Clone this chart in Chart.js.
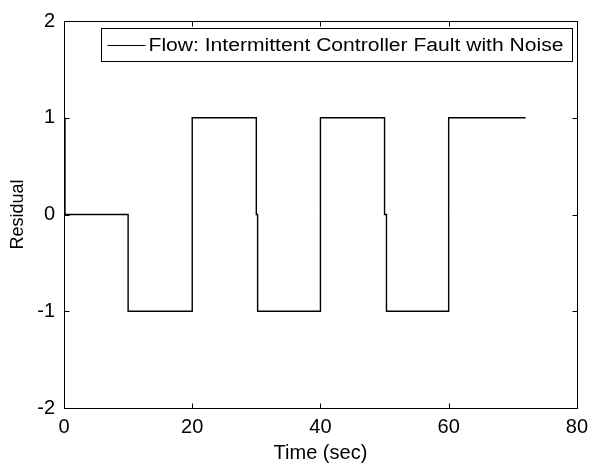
<!DOCTYPE html>
<html>
<head>
<meta charset="utf-8">
<script src="https://cdn.jsdelivr.net/npm/chart.js@4.4.1/dist/chart.umd.min.js"></script>
<style>
  html, body { margin: 0; padding: 0; background: #fff; }
  #wrap { width: 595px; height: 470px; }
</style>
</head>
<body>
<div id="wrap"><canvas id="c" width="595" height="470"></canvas></div>
<script>
// residual trace (step changes)
var time     = [0.15, 0.15, 10, 10, 20, 20, 30, 30, 30.2, 30.2, 40, 40, 50, 50, 50.3, 50.3, 60, 60, 72];
var residual = [1,    0,    0,  -1, -1, 1,  1,  0,  0,    -1,   -1, 1,  1,  0,  0,    -1,   -1, 1,  1];
var xTicks = [0, 20, 40, 60, 80];
var yTicks = [-2, -1, 0, 1, 2];
var seriesName = "Flow: Intermittent Controller Fault with Noise";

var FONT = "'Liberation Sans', Arial, Helvetica, sans-serif";

var points = [];
for (var i = 0; i < time.length; i++) {
  points.push({ x: time[i], y: residual[i] });
}

// frame, inward ticks and boxed legend, MATLAB style
var matlabAxes = {
  id: "matlabAxes",
  afterDatasetsDraw: function(chart) {
    var ctx = chart.ctx, a = chart.chartArea;
    var xs = chart.scales.x, ys = chart.scales.y;
    var L = Math.round(a.left) + 0.5, R = Math.round(a.right) + 0.5;
    var T = Math.round(a.top) + 0.5, B = Math.round(a.bottom) + 0.5;
    ctx.save();
    ctx.strokeStyle = "#000";
    ctx.lineWidth = 1;
    ctx.strokeRect(L, T, R - L, B - T);
    ctx.beginPath();
    xTicks.forEach(function(v) {
      var px = Math.round(xs.getPixelForValue(v)) + 0.5;
      ctx.moveTo(px, B); ctx.lineTo(px, B - 5);
      ctx.moveTo(px, T); ctx.lineTo(px, T + 5);
    });
    yTicks.forEach(function(v) {
      var py = Math.round(ys.getPixelForValue(v)) + 0.5;
      ctx.moveTo(L, py); ctx.lineTo(L + 5, py);
      ctx.moveTo(R, py); ctx.lineTo(R - 5, py);
    });
    ctx.stroke();

    // legend box
    var bx = L + 37, by = T + 7, bw = R - 5 - bx, bh = 33;
    ctx.fillStyle = "#fff";
    ctx.fillRect(bx, by, bw, bh);
    ctx.strokeRect(bx, by, bw, bh);
    var ly = Math.round(by + bh / 2) + 0.5;
    ctx.beginPath();
    ctx.moveTo(bx + 6, ly); ctx.lineTo(bx + 44, ly);
    ctx.stroke();
    // the original lettering is a little wider than Liberation Sans, so stretch it to fit
    ctx.fillStyle = "#000";
    ctx.font = "18px " + FONT;
    ctx.textBaseline = "middle";
    ctx.textAlign = "left";
    var tx = bx + 47, room = bw - 47 - 9;
    var sx = room / ctx.measureText(seriesName).width;
    ctx.translate(tx, by + bh / 2 + 1);
    ctx.scale(sx, 1);
    ctx.fillText(seriesName, 0, 0);
    ctx.restore();
  }
};

new Chart(document.getElementById("c"), {
  type: "line",
  data: {
    datasets: [{
      label: seriesName,
      data: points,
      borderColor: "#000",
      borderWidth: 1.4,
      pointRadius: 0,
      fill: false,
      tension: 0
    }]
  },
  options: {
    responsive: false,
    animation: false,
    layout: { padding: { left: 0, right: 17, top: 17, bottom: 0 } },
    plugins: { legend: { display: false }, tooltip: { enabled: false } },
    scales: {
      x: {
        type: "linear",
        min: 0, max: 80,
        afterBuildTicks: function(s) { s.ticks = xTicks.map(function(v) { return { value: v }; }); },
        afterFit: function(s) { s.height = 62; },
        grid: { display: false, drawTicks: false },
        border: { display: false },
        ticks: { color: "#000", font: { family: FONT, size: 20 }, padding: 7, maxRotation: 0 },
        title: { display: true, text: "Time (sec)", color: "#000", font: { family: FONT, size: 20 }, padding: { top: 0, bottom: 5 } }
      },
      y: {
        type: "linear",
        min: -2, max: 2,
        afterBuildTicks: function(s) { s.ticks = yTicks.map(function(v) { return { value: v }; }); },
        afterFit: function(s) { s.width = 64; },
        grid: { display: false, drawTicks: false },
        border: { display: false },
        ticks: { color: "#000", font: { family: FONT, size: 20 }, padding: 9 },
        title: { display: true, text: "Residual", color: "#000", font: { family: FONT, size: 18 }, padding: { top: 7, bottom: 0 } }
      }
    }
  },
  plugins: [matlabAxes]
});
</script>
</body>
</html>
